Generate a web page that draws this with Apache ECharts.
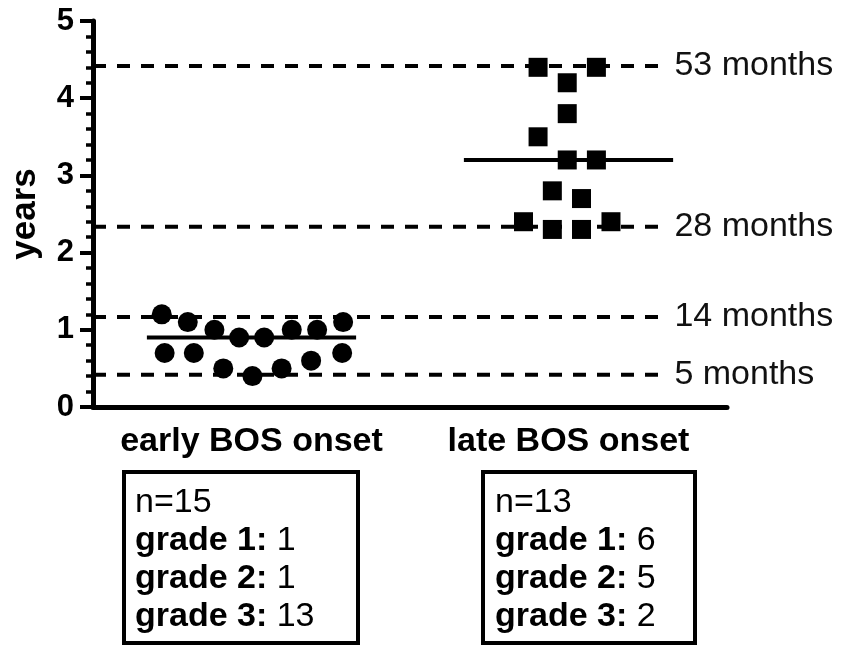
<!DOCTYPE html>
<html>
<head>
<meta charset="utf-8">
<script src="https://cdn.jsdelivr.net/npm/echarts@6/dist/echarts.min.js"></script>
<style>
html,body{margin:0;padding:0;background:#fff;}
#chart{width:841px;height:647px;}
</style>
</head>
<body>
<div id="chart"></div>
<script>
// ---- data ----
var categories = ['early BOS onset', 'late BOS onset'];
// jittered x offsets (category index + offset) and values in years
var earlyX = [-0.283, -0.201, -0.117, -0.039, 0.040, 0.127, 0.207, 0.289, -0.274, -0.182, -0.089, 0.003, 0.095, 0.188, 0.286];
var earlyY = [1.2, 1.1, 1.0, 0.9, 0.9, 1.0, 1.0, 1.1, 0.7, 0.7, 0.5, 0.4, 0.5, 0.6, 0.7];
var lateX = [-0.096, 0.088, -0.004, -0.004, -0.096, -0.004, 0.088, -0.051, 0.041, -0.142, 0.134, -0.051, 0.041];
var lateY = [4.4, 4.4, 4.2, 3.8, 3.5, 3.2, 3.2, 2.8, 2.7, 2.4, 2.4, 2.3, 2.3];
var medians = [0.9, 3.2];
var refMonths = [53, 28, 14, 5];
var refYears = [53 / 12, 28 / 12, 14 / 12, 5 / 12];
var refLabels = ['53 months', '28 months', '14 months', '5 months'];
var yTicks = [0, 1, 2, 3, 4, 5];
var boxN = [15, 13];
var grade1 = [1, 6];
var grade2 = [1, 5];
var grade3 = [13, 2];

var FONT = '"Liberation Sans", Arial, Helvetica, sans-serif';
var chart = echarts.init(document.getElementById('chart'));

var series = [];
// dashed reference lines
refYears.forEach(function (v, i) {
  series.push({
    type: 'line', xAxisIndex: 1, yAxisIndex: 0, z: 1,
    data: [[-0.5, v], [1.29, v]],
    showSymbol: false, symbol: 'none', silent: true,
    lineStyle: { color: '#000', width: 4, type: [13, 11] },
    endLabel: { show: true, formatter: refLabels[i], fontSize: 34, color: '#111', fontFamily: FONT, distance: 14 }
  });
});
// median lines
medians.forEach(function (m, i) {
  series.push({
    type: 'line', xAxisIndex: 1, yAxisIndex: 0, z: 3,
    data: [[i - 0.33, m], [i + 0.33, m]],
    showSymbol: false, symbol: 'none', silent: true,
    lineStyle: { color: '#000', width: 4 }
  });
});
// points
series.push({
  type: 'scatter', xAxisIndex: 1, yAxisIndex: 0, z: 5,
  symbol: 'circle', symbolSize: 20,
  itemStyle: { color: '#000', opacity: 1 },
  data: earlyX.map(function (dx, i) { return [0 + dx, earlyY[i]]; })
});
series.push({
  type: 'scatter', xAxisIndex: 1, yAxisIndex: 0, z: 5,
  symbol: 'rect', symbolSize: 19,
  itemStyle: { color: '#000', opacity: 1 },
  data: lateX.map(function (dx, i) { return [1 + dx, lateY[i]]; })
});

function boxText(i) {
  return '{n|n=' + boxN[i] + '}\n' +
    '{b|grade 1:}{n| ' + grade1[i] + '}\n' +
    '{b|grade 2:}{n| ' + grade2[i] + '}\n' +
    '{b|grade 3:}{n| ' + grade3[i] + '}';
}
var rich = {
  n: { fontSize: 34, fontFamily: FONT, color: '#111', lineHeight: 38 },
  b: { fontSize: 34, fontFamily: FONT, fontWeight: 'bold', color: '#111', lineHeight: 38 }
};

var option = {
  backgroundColor: '#fff',
  animation: false,
  grid: { left: 91, right: 114, top: 21, bottom: 240, containLabel: false },
  xAxis: [
    {
      type: 'category', data: categories, position: 'bottom',
      axisLine: { onZero: false, lineStyle: { color: '#000', width: 5 } },
      axisTick: { alignWithLabel: true, inside: false, length: 13, lineStyle: { color: '#000', width: 4 } },
      axisLabel: { interval: 0, fontSize: 34, fontWeight: 'bold', color: '#000', fontFamily: FONT, margin: 18, hideOverlap: false },
      splitLine: { show: false }
    },
    { type: 'value', min: -0.5, max: 1.5, show: false }
  ],
  yAxis: {
    type: 'value', min: 0, max: 5, interval: 1, position: 'left',
    name: 'years', nameLocation: 'middle', nameGap: 50,
    nameTextStyle: { fontSize: 35, fontWeight: 'bold', color: '#000', fontFamily: FONT },
    axisLine: { show: true, onZero: false, lineStyle: { color: '#000', width: 5 } },
    axisTick: { show: true, inside: false, length: 13, lineStyle: { color: '#000', width: 4 } },
    minorTick: { show: true, splitNumber: 5, length: 7, lineStyle: { color: '#000', width: 3.5 } },
    splitLine: { show: false },
    axisLabel: {
      inside: false,
      fontSize: 31, fontWeight: 'bold', color: '#000', fontFamily: FONT, margin: 19,
      formatter: function (v) { return yTicks.indexOf(v) >= 0 ? String(v) : ''; }
    }
  },
  series: series,
  graphic: [
    { type: 'rect', shape: { x: 124, y: 472, width: 234, height: 171 }, style: { fill: 'none', stroke: '#000', lineWidth: 4 } },
    { type: 'rect', shape: { x: 483, y: 472, width: 212, height: 171 }, style: { fill: 'none', stroke: '#000', lineWidth: 4 } },
    { type: 'text', x: 135, y: 484, style: { text: boxText(0), rich: rich, fontSize: 34, lineHeight: 38, fontFamily: FONT } },
    { type: 'text', x: 495, y: 484, style: { text: boxText(1), rich: rich, fontSize: 34, lineHeight: 38, fontFamily: FONT } }
  ]
};
chart.setOption(option);
</script>
</body>
</html>
